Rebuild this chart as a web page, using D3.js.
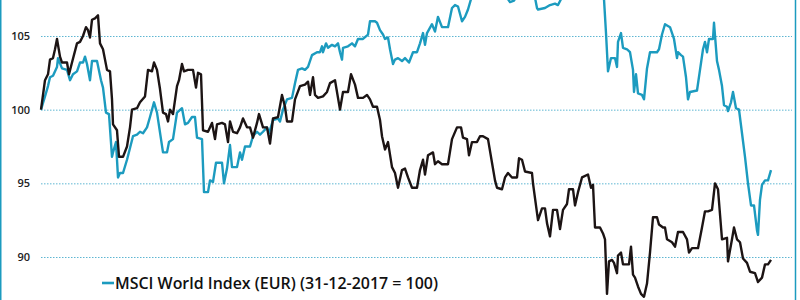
<!DOCTYPE html>
<html>
<head>
<meta charset="utf-8">
<script src="https://cdn.jsdelivr.net/npm/d3@7"></script>
<style>
  body { margin: 0; background: #fff; }
  svg { display: block; }
</style>
</head>
<body>
<div id="chart"></div>
<script>
var w = 800;
var h = 300;

// y-axis ticks
var tickValues = [90, 95, 100, 105];

// MSCI World Index (EUR), 31-12-2017 = 100 ; x = day of 2018
var msciDays = [0, 2, 3.5, 4.5, 6, 8, 8.5, 10.5, 13, 14.5, 16, 18, 19.5, 21, 22, 23, 24.5, 25.5, 28, 30,
  31, 32.5, 34, 35.5, 36, 37.5, 38.5, 39.5, 41, 43, 44.5, 46, 48, 49.5, 51, 53, 54.5, 56.5, 58, 60,
  61, 63, 64, 66, 68, 70.5, 72, 73.5, 75.5, 77, 78, 80.5, 81.5, 83.5, 84.5, 86, 87.5, 90.5, 91.5, 93,
  94.5, 95.5, 98, 99.5, 100.5, 102, 104.5, 106, 108, 109.5, 111, 113, 114, 116, 118.5, 119.5, 121, 123, 125.5, 127,
  128.5, 130.5, 132, 133.5, 135.5, 138, 139.5, 140.5, 141, 142.5, 143.5, 145.5, 147, 148.5, 149.5, 150.5, 151, 153.5, 155.5, 157,
  158.5, 161, 163.5, 164.5, 167, 168, 169.5, 171, 172, 173.5, 174.5, 176, 177, 178.5, 180.5, 182, 184, 186, 188, 189.5,
  191, 192, 193, 195.5, 197, 198.5, 200.5, 203.5, 205.5, 207, 208.5, 210.5, 212, 213.5, 215, 217.5, 220.5, 223.5, 226.5, 229.5,
  232, 234.5, 236.5, 238.5, 241.5, 244.5, 247, 248, 248.5, 252, 254.5, 257, 258.5, 260, 262.5, 265.5, 268.5, 271.5, 274.5, 277.5,
  280, 281.5, 282.5, 283.5, 285, 287, 288, 288.5, 290, 291, 293, 294.5, 296, 296.5, 297.5, 298.5, 300.5, 301.5, 303, 304.5,
  308, 309, 310.5, 312, 314.5, 316.5, 318, 318.5, 320, 321, 322.5, 323.5, 324.5, 328, 329.5, 331, 332, 333, 334, 336,
  336.5, 338, 339, 340.5, 341.5, 343, 343.5, 345, 346, 347.5, 349, 350.5, 352, 353.5, 355, 356.5, 358, 358.5, 359.5, 360.5,
  362, 363.5, 365];
var msciValues = [100, 100.9, 101.6, 102.2, 102.3, 102.9, 103.5, 102.8, 102.7, 102.0, 102.4, 102.6, 103.2, 103.2, 103.6, 103.1, 102.0, 103.3, 103.3, 102.0,
  101.5, 99.8, 99.7, 96.8, 97.1, 97.8, 95.4, 95.7, 95.7, 96.6, 97.4, 98.2, 98.3, 98.5, 98.4, 98.8, 99.5, 100.5, 99.8, 98.0,
  97.1, 97.1, 97.8, 98.0, 99.8, 100.1, 99.0, 99.1, 99.5, 99.5, 98.1, 98.0, 94.4, 94.4, 95.2, 95.1, 96.4, 96.4, 95.0, 96.0,
  97.6, 96.1, 96.1, 97.1, 96.6, 97.5, 97.5, 98.2, 98.5, 98.3, 98.5, 98.8, 98.4, 99.3, 99.4, 99.2, 100.0, 100.7, 100.8, 101.8,
  102.7, 102.8, 102.7, 102.9, 103.7, 103.9, 103.9, 104.3, 103.9, 104.5, 104.2, 104.4, 104.3, 104.5, 103.9, 103.4, 104.2, 104.3, 104.5, 104.3,
  104.8, 104.8, 105.1, 106.0, 106.0, 105.9, 105.4, 105.1, 104.8, 104.9, 104.1, 103.1, 103.4, 103.5, 103.3, 103.5, 103.2, 103.9, 103.9, 104.5,
  105.2, 104.4, 105.2, 105.8, 105.3, 106.3, 105.6, 105.6, 106.9, 107.1, 107.0, 106.0, 106.3, 106.8, 107.5, 108.0, 108.3, 107.9, 108.4, 108.1,
  107.8, 107.3, 107.4, 107.9, 108.2, 107.8, 107.6, 106.9, 106.8, 106.9, 107.1, 107.2, 107.1, 107.5, 108.0, 108.3, 108.1, 108.5, 108.2, 108.6,
  108.3, 107.5, 105.2, 102.6, 103.5, 103.5, 102.9, 104.6, 105.2, 104.2, 104.1, 103.9, 102.7, 101.2, 102.4, 101.1, 101.0, 100.7, 102.8, 103.9,
  103.9, 104.1, 105.1, 105.8, 105.6, 104.8, 103.5, 103.9, 103.7, 103.6, 102.2, 100.7, 101.2, 101.3, 102.7, 104.1, 104.6, 103.9, 104.8, 104.8,
  105.9, 103.3, 102.7, 101.6, 100.3, 100.2, 99.9, 100.5, 101.2, 100.1, 100.0, 98.4, 96.8, 95.0, 93.5, 93.5, 91.8, 91.5, 93.9, 94.9,
  95.2, 95.2, 95.9];

// second index (black line), same base
var otherDays = [0, 2, 3.5, 4.5, 6, 7, 8, 9.5, 10.5, 13, 14, 15.5, 18, 19.5, 21, 22.5, 23.5, 24.5, 25.5, 27,
  28.5, 29.5, 31, 33, 34.5, 35.5, 36, 38, 39, 41, 43, 44.5, 45.5, 48, 49.5, 52, 53.5, 55.5, 56.5, 58,
  59.5, 61, 62.5, 63.5, 64.5, 66, 68, 69, 70.5, 71.5, 73.5, 76, 77.5, 78.5, 80, 81, 83.5, 85.5, 87, 88,
  90.5, 92, 93.5, 94.5, 96, 98, 99.5, 101, 103, 104.5, 106, 108, 109, 111, 113, 114.5, 116, 118.5, 120.5, 122,
  123, 125.5, 127, 129.5, 132, 133.5, 134.5, 136, 137, 138.5, 141, 143, 144.5, 147, 149.5, 151, 153.5, 155, 157, 158.5,
  161, 163, 164.5, 166, 168, 169.5, 170.5, 172, 173.5, 175.5, 177, 178.5, 180.5, 182, 183.5, 185.5, 188, 189.5, 191, 192,
  193.5, 196, 197, 198.5, 200.5, 203.5, 205.5, 208, 210, 211, 213, 214, 215.5, 218, 219.5, 221, 223.5, 225.5, 227, 228,
  230.5, 232, 233.5, 235.5, 238, 239, 240.5, 242, 245.5, 246, 248, 248.5, 250.5, 252, 253, 254.5, 256, 258, 259.5, 261,
  263, 264, 266, 267, 268.5, 270.5, 273.5, 275, 276, 277, 279.5, 281, 282, 283, 284, 285.5, 286.5, 288, 288.5, 290,
  291, 294, 295, 296, 297, 298.5, 300, 301.5, 303, 304.5, 306, 308, 309, 311, 312, 313, 315.5, 317, 318.5, 321,
  323, 324, 325.5, 328.5, 330.5, 332, 333.5, 335.5, 337, 338.5, 340.5, 343, 343.5, 345.5, 346.5, 348, 349.5, 351, 353, 354.5,
  357, 358.5, 360.5, 362, 363.5, 365];
var otherValues = [100, 102.0, 102.4, 103.4, 103.5, 104.1, 104.8, 103.6, 103.2, 103.2, 102.4, 103.2, 104.5, 104.6, 105.0, 105.6, 105.4, 104.9, 106.1, 106.2,
  106.4, 104.5, 104.1, 102.7, 102.6, 100.7, 99.0, 98.6, 96.8, 96.8, 97.5, 98.8, 100.0, 100.1, 100.5, 100.9, 102.7, 102.6, 103.2, 102.7,
  101.4, 99.8, 99.7, 99.2, 100.0, 99.7, 101.6, 102.0, 103.1, 102.6, 102.7, 102.7, 101.5, 102.5, 102.4, 98.6, 98.5, 99.1, 98.0, 99.0,
  99.1, 99.0, 97.8, 99.2, 98.5, 98.4, 98.8, 99.4, 98.8, 98.8, 98.1, 99.1, 99.7, 98.8, 98.8, 97.7, 99.4, 99.5, 101.0, 100.2,
  99.2, 99.2, 100.7, 101.6, 101.7, 101.9, 101.0, 102.2, 101.0, 100.8, 100.9, 101.2, 101.8, 102.0, 100.0, 101.2, 101.2, 102.4, 101.7, 100.8,
  100.8, 101.0, 100.7, 100.2, 100.2, 99.3, 98.2, 97.3, 97.8, 96.1, 95.7, 94.7, 95.9, 96.0, 95.4, 94.7, 94.7, 95.9, 96.6, 95.6,
  96.9, 97.1, 96.3, 96.5, 96.3, 96.3, 98.0, 98.8, 98.8, 98.1, 98.0, 96.9, 97.8, 97.8, 98.2, 98.2, 98.0, 96.4, 95.2, 94.7,
  94.6, 95.4, 95.7, 95.4, 95.4, 96.7, 96.6, 95.8, 95.7, 95.0, 93.0, 92.5, 93.3, 93.3, 92.3, 91.4, 93.2, 93.2, 91.9, 93.2,
  93.6, 94.6, 94.6, 93.5, 94.4, 95.4, 95.6, 94.7, 94.9, 92.0, 92.0, 91.6, 91.2, 87.5, 89.7, 89.8, 89.6, 88.9, 90.1, 90.3,
  89.5, 89.5, 90.7, 88.8, 88.6, 88.0, 87.5, 87.3, 88.2, 90.3, 92.7, 92.7, 92.2, 92.0, 92.0, 91.2, 91.0, 90.7, 91.7, 91.7,
  91.2, 90.3, 90.6, 90.6, 92.0, 93.1, 93.1, 93.2, 95.0, 94.6, 91.2, 91.3, 89.7, 91.2, 92.0, 91.2, 91.0, 89.9, 89.6, 89.0,
  88.9, 88.3, 88.6, 89.5, 89.5, 89.8];

var legendLabel = "MSCI World Index (EUR) (31-12-2017 = 100)";

var teal = "#1c9bbf";
var ink = "#1c1414";

var svg = d3.select("#chart").append("svg")
    .attr("width", w)
    .attr("height", h);

var x = d3.scaleLinear().domain([0, 365]).range([41, 771]);
var y = d3.scaleLinear().domain([90, 105]).range([257, 36]);

// gridlines + labels
var yAxis = d3.axisLeft(y)
    .tickValues(tickValues)
    .tickSize(-751)
    .tickPadding(11)
    .tickFormat(d3.format("d"));

var gAxis = svg.append("g")
    .attr("transform", "translate(41,0)")
    .call(yAxis);
gAxis.select(".domain").remove();
gAxis.selectAll(".tick line")
    .attr("stroke", "#5fb6d2")
    .attr("stroke-width", 1)
    .attr("stroke-dasharray", "1.5,1.5");
gAxis.selectAll(".tick text")
    .attr("fill", "#222")
    .style("font-family", "'Open Sans', sans-serif")
    .style("font-weight", "600")
    .style("font-size", "11px");

var line = d3.line()
    .x(function (d) { return x(d[0]); })
    .y(function (d) { return y(d[1]); });

var series = [
    { days: msciDays, values: msciValues, color: teal },
    { days: otherDays, values: otherValues, color: ink }
];

svg.selectAll("path.series")
    .data(series)
    .enter().append("path")
    .attr("class", "series")
    .attr("fill", "none")
    .attr("stroke", function (d) { return d.color; })
    .attr("stroke-width", 2.4)
    .attr("stroke-linejoin", "round")
    .attr("d", function (d) { return line(d3.zip(d.days, d.values)); });

// legend
var legend = svg.append("g").attr("transform", "translate(102,283)");
legend.append("line")
    .attr("x1", 0).attr("x2", 12)
    .attr("stroke", teal)
    .attr("stroke-width", 2.6);
legend.append("text")
    .attr("x", 13)
    .attr("y", 5.5)
    .attr("fill", "#111")
    .attr("textLength", 323)
    .attr("lengthAdjust", "spacingAndGlyphs")
    .style("font-family", "'Open Sans', sans-serif")
    .style("font-weight", "600")
    .style("font-size", "16px")
    .text(legendLabel);

// frame sides
svg.append("line")
    .attr("x1", 0.75).attr("x2", 0.75).attr("y1", 0).attr("y2", h)
    .attr("stroke", teal).attr("stroke-width", 1.5);
svg.append("line")
    .attr("x1", 795.5).attr("x2", 795.5).attr("y1", 0).attr("y2", h)
    .attr("stroke", teal).attr("stroke-width", 1.5);
</script>
</body>
</html>
